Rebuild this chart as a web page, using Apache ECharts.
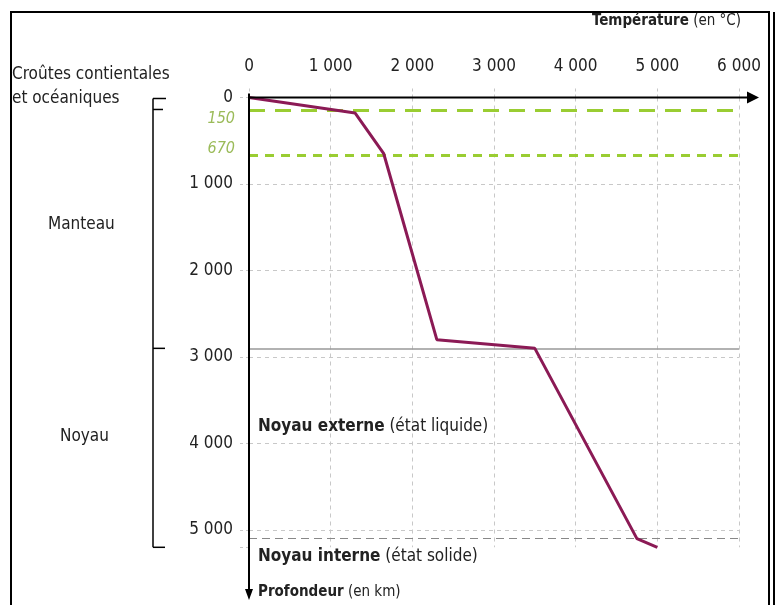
<!DOCTYPE html>
<html>
<head>
<meta charset="utf-8">
<script src="https://cdn.jsdelivr.net/npm/echarts@6/dist/echarts.min.js"></script>
<style>
  html, body { margin: 0; padding: 0; background: #fff; }
  #main { width: 775px; height: 605px; }
</style>
</head>
<body>
<div id="main"></div>
<script>
// géotherme : température (°C) en fonction de la profondeur (km)
const curveTemp  = [0, 1300, 1650, 2300, 3500, 4750, 5000];
const curveDepth = [0, 180, 650, 2800, 2900, 5100, 5200];

// limites
const greenDepths = [150, 670];
const mantleCoreDepth = 2900;
const innerCoreDepth = 5100;

const FONT = '"DejaVu Sans Condensed", "DejaVu Sans", sans-serif';

const fmt = v => (v % 1000 === 0 ? String(v).replace(/\B(?=(\d{3})+(?!\d))/g, ' ') : '');

let myChart = echarts.init(document.getElementById('main'));

var option = {
  animation: false,
  grid: { left: 249, right: 36, top: 97.5, height: 449.8 },
  xAxis: {
    type: 'value',
    position: 'top',
    min: 0, max: 6000, interval: 1000,
    axisLine: { show: false },
    axisTick: { show: true, length: 10, lineStyle: { color: '#c8c8c8', type: [3, 3] } },
    axisLabel: { margin: 22, color: '#222', fontSize: 17, fontFamily: FONT, formatter: fmt },
    splitLine: { show: true, lineStyle: { color: '#c8c8c8', type: [4, 4] } }
  },
  yAxis: {
    type: 'value',
    inverse: true,
    min: 0, max: 5200, interval: 1000,
    axisLine: { show: false },
    axisTick: { show: true, length: 9, lineStyle: { color: '#c8c8c8', type: [3, 3] } },
    axisLabel: { margin: 16, color: '#222', fontSize: 17, fontFamily: FONT, formatter: fmt },
    splitLine: { show: true, showMaxLine: false, lineStyle: { color: '#c8c8c8', type: [4, 4] } }
  },
  series: [
    {
      // lignes de référence
      type: 'line',
      data: [],
      silent: true,
      markLine: {
        symbol: 'none',
        silent: true,
        label: { show: false },
        data: [
          { yAxis: greenDepths[0], lineStyle: { color: '#9acd32', width: 3, type: [16, 10] } },
          { yAxis: greenDepths[1], lineStyle: { color: '#9acd32', width: 3, type: [9, 7] } },
          { yAxis: mantleCoreDepth, lineStyle: { color: '#999', width: 1.5, type: 'solid' } },
          { yAxis: innerCoreDepth, lineStyle: { color: '#888', width: 1, type: [8, 5] } }
        ]
      }
    },
    {
      name: 'Géotherme',
      type: 'line',
      data: curveTemp.map((t, i) => [t, curveDepth[i]]),
      showSymbol: false,
      clip: false,
      lineStyle: { color: '#8b1a55', width: 3 },
      z: 5
    }
  ]
};
myChart.setOption(option);

// décor : axes fléchés, accolade, textes
const px = (t, d) => myChart.convertToPixel({ gridIndex: 0 }, [t, d]);
const o = px(0, 0);
const xEnd = px(6000, 0)[0];
const yTop = px(0, 0)[1];
const txt = (x, y, text, extra) => ({
  type: 'text', x: x, y: y, z: 10,
  style: Object.assign({ text: text, font: '17px ' + FONT, fill: '#222', textVerticalAlign: 'middle' }, extra || {})
});
const seg = (x1, y1, x2, y2, w) => ({
  type: 'line', z: 10, shape: { x1: x1, y1: y1, x2: x2, y2: y2 },
  style: { stroke: '#000', lineWidth: w || 1.5 }
});
const bx = 153;
const yB0 = px(0, 0)[1] + 1, yB1 = px(0, greenDepths[0])[1] - 1, yB2 = px(0, mantleCoreDepth)[1], yB3 = px(0, 5200)[1];
const bold = size => ({ b: { fontWeight: 'bold', fontSize: size, fontFamily: FONT, fill: '#222' } });

myChart.setOption({
  graphic: [
    // cadre
    { type: 'rect', shape: { x: 11, y: 12, width: 758, height: 620 }, style: { fill: 'none', stroke: '#000', lineWidth: 2 } },
    seg(774, 12, 774, 605, 2),
    // axe des températures
    seg(o[0] - 1, yTop, xEnd + 14, yTop, 2),
    { type: 'polygon', z: 10, shape: { points: [[xEnd + 20, yTop], [xEnd + 8, yTop - 6], [xEnd + 8, yTop + 6]] }, style: { fill: '#000' } },
    // axe des profondeurs
    seg(o[0], yTop - 4, o[0], 592, 2),
    { type: 'polygon', z: 10, shape: { points: [[o[0], 600], [o[0] - 4, 589], [o[0] + 4, 589]] }, style: { fill: '#000' } },
    // accolade
    seg(bx, yB0, bx, yB3),
    seg(bx, yB0, bx + 13, yB0),
    seg(bx, yB1, bx + 10, yB1),
    seg(bx, yB2, bx + 12, yB2),
    seg(bx, yB3, bx + 12, yB3),
    // profondeurs en vert
    txt(o[0] - 14, px(0, greenDepths[0])[1] + 8, String(greenDepths[0]), { fill: '#9bbb59', font: 'italic 16px ' + FONT, textAlign: 'right' }),
    txt(o[0] - 14, px(0, greenDepths[1])[1] - 7, String(greenDepths[1]), { fill: '#9bbb59', font: 'italic 16px ' + FONT, textAlign: 'right' }),
    // titres des axes
    txt(741, 21, '{b|Température} (en °C)', { font: '15px ' + FONT, textAlign: 'right', rich: bold(15) }),
    txt(o[0] + 9, 592, '{b|Profondeur} (en km)', { font: '15px ' + FONT, rich: bold(15) }),
    // enveloppes
    txt(12, 75, 'Croûtes contientales'),
    txt(12, 99, 'et océaniques'),
    txt(48, 225, 'Manteau'),
    txt(60, 437, 'Noyau'),
    txt(o[0] + 9, 427, '{b|Noyau externe} (état liquide)', { rich: bold(17) }),
    txt(o[0] + 9, 557, '{b|Noyau interne} (état solide)', { rich: bold(17) })
  ]
});
</script>
</body>
</html>
